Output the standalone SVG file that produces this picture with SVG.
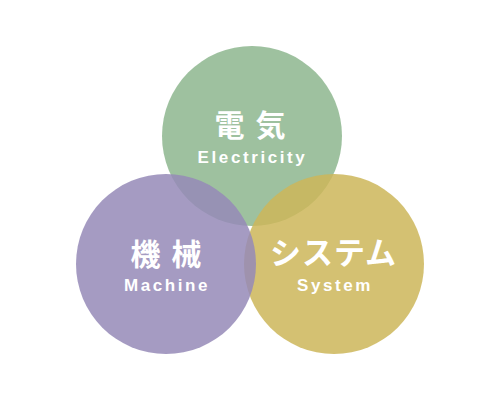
<svg xmlns="http://www.w3.org/2000/svg" width="500" height="400" viewBox="0 0 500 400">
<style>
.c{opacity:0.85}
.jp{font-family:"Noto Sans CJK JP","Noto Sans",sans-serif;font-weight:bold;font-size:30px;fill:#fff;text-anchor:middle}
.en{font-family:"Liberation Sans","Noto Sans",sans-serif;font-weight:bold;font-size:17px;fill:#fff;text-anchor:middle;letter-spacing:2.6px}
</style>
<rect width="500" height="400" fill="#fff"/>
<g id="electricity">
<circle class="c" cx="252" cy="136" r="90" fill="#8db68e"/>
</g>
<g id="system">
<circle class="c" cx="334" cy="264" r="90" fill="#cdb659"/>
</g>
<g id="machine">
<circle class="c" cx="166" cy="264" r="90" fill="#958ab7"/>
</g>
<g id="labels">
<text class="jp" x="251" y="136" style="letter-spacing:2px">電 気</text>
<text class="en" x="252.5" y="163">Electricity</text>
<text class="jp" x="167" y="265" style="letter-spacing:2px">機 械</text>
<text class="en" x="167" y="291">Machine</text>
<text class="jp" x="333.5" y="264" style="font-size:31px;letter-spacing:1px">システム</text>
<text class="en" x="335" y="291">System</text>
</g>
<g id="connectors"></g>
</svg>
